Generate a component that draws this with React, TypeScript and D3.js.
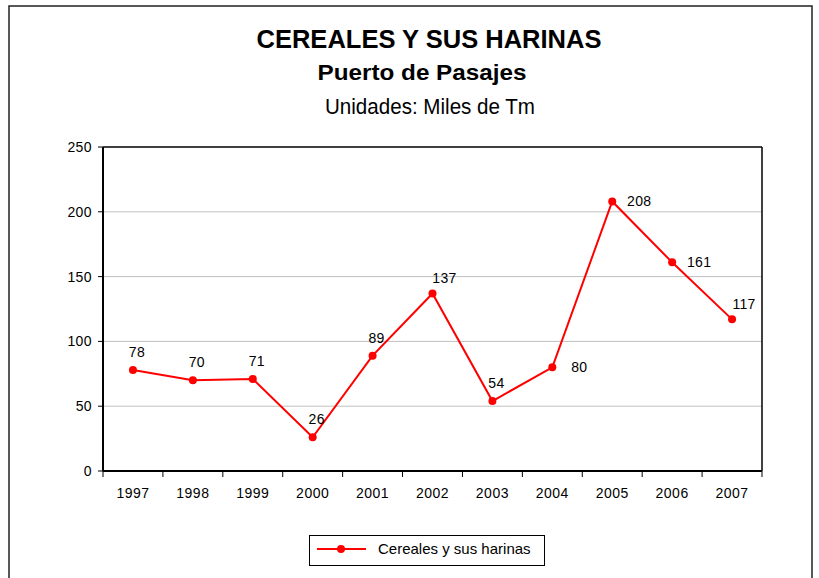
import React from "react";
import { scaleBand, scaleLinear, line } from "d3";

// chart data
const years = ["1997", "1998", "1999", "2000", "2001", "2002", "2003", "2004", "2005", "2006", "2007"];
const values = [78, 70, 71, 26, 89, 137, 54, 80, 208, 161, 117];
const yTicks = [0, 50, 100, 150, 200, 250];
// where each value label sits relative to its point
const labelPlacement = ["top", "top", "top", "top", "top", "topRight", "top", "right", "right", "right", "topRight"];

const seriesName = "Cereales y sus harinas";
const title = "CEREALES Y SUS HARINAS";
const subtitle = "Puerto de Pasajes";
const units = "Unidades: Miles de Tm";

const W = 819;
const H = 578;
const plot = { left: 103, right: 762, top: 147, bottom: 471 };
const FONT = "Arial, 'Liberation Sans', Helvetica, sans-serif";

const offsets = {
    top: [4, -18],
    topRight: [12, -15],
    right: [27, 0],
};

export default function App() {
    const xScale = scaleBand()
        .domain(years)
        .range([plot.left, plot.right]);
    const yScale = scaleLinear()
        .domain([0, 250])
        .range([plot.bottom, plot.top]);

    const cx = (i) => xScale(years[i]) + xScale.bandwidth() / 2;
    const path = line()
        .x((d, i) => cx(i))
        .y(d => yScale(d))(values);

    // tick positions at band boundaries
    const xTickPos = years.map(y => xScale(y)).concat([plot.right]);

    return (
        <svg width={W} height={H} style={{ position: "absolute", left: 0, top: 0 }} fontFamily={FONT}>
            <rect x={0} y={0} width={W} height={H} fill="#fff" />
            {/* outer chart frame */}
            <rect x={9} y={6} width={803} height={H + 10} fill="none" stroke="#222" strokeWidth={1.5} />

            {/* titles */}
            <text x={429} y={48} textAnchor="middle" fontSize={25} fontWeight="bold"
                  textLength={345} lengthAdjust="spacingAndGlyphs">{title}</text>
            <text x={422} y={80} textAnchor="middle" fontSize={22} fontWeight="bold"
                  textLength={209} lengthAdjust="spacingAndGlyphs">{subtitle}</text>
            <text x={430} y={114} textAnchor="middle" fontSize={22}
                  textLength={210} lengthAdjust="spacingAndGlyphs">{units}</text>

            {/* gridlines */}
            {yTicks.filter(t => t > 0 && t < 250).map(t => (
                <line key={t} x1={plot.left} x2={plot.right} y1={yScale(t)} y2={yScale(t)}
                      stroke="#c0c0c0" strokeWidth={1} />
            ))}

            {/* plot border top + right */}
            <line x1={plot.left} x2={plot.right} y1={plot.top} y2={plot.top} stroke="#000" strokeWidth={1.5} />
            <line x1={plot.right} x2={plot.right} y1={plot.top} y2={plot.bottom} stroke="#000" strokeWidth={1.5} />

            {/* y axis */}
            <line x1={plot.left} x2={plot.left} y1={plot.top} y2={plot.bottom} stroke="#000" strokeWidth={2} />
            {yTicks.map(t => (
                <g key={t}>
                    <line x1={plot.left - 5} x2={plot.left} y1={yScale(t)} y2={yScale(t)} stroke="#000" strokeWidth={1} />
                    <text x={92} y={yScale(t)} dy="0.35em" textAnchor="end" fontSize={14} letterSpacing={0.4}>{t}</text>
                </g>
            ))}

            {/* x axis */}
            <line x1={plot.left} x2={plot.right} y1={plot.bottom} y2={plot.bottom} stroke="#000" strokeWidth={2} />
            {xTickPos.map((x, i) => (
                <line key={i} x1={x} x2={x} y1={plot.bottom} y2={plot.bottom + 6} stroke="#000" strokeWidth={1} />
            ))}
            {years.map((y, i) => (
                <text key={y} x={cx(i)} y={498} textAnchor="middle" fontSize={14} letterSpacing={0.5}>{y}</text>
            ))}

            {/* series */}
            <path d={path} fill="none" stroke="#ff0000" strokeWidth={2} />
            {values.map((v, i) => (
                <circle key={i} cx={cx(i)} cy={yScale(v)} r={4} fill="#ff0000" />
            ))}
            {values.map((v, i) => {
                const [dx, dy] = offsets[labelPlacement[i]];
                return (
                    <text key={i} x={cx(i) + dx} y={yScale(v) + dy} dy="0.35em" textAnchor="middle"
                          fontSize={14} letterSpacing={0.3}>{v}</text>
                );
            })}

            {/* legend */}
            <rect x={309.5} y={535.5} width={235} height={30} fill="#fff" stroke="#000" strokeWidth={1} />
            <line x1={317} x2={366} y1={549} y2={549} stroke="#ff0000" strokeWidth={2} />
            <circle cx={341} cy={549} r={4} fill="#ff0000" />
            <text x={378} y={549} dy="0.35em" fontSize={15}>{seriesName}</text>
        </svg>
    );
}
